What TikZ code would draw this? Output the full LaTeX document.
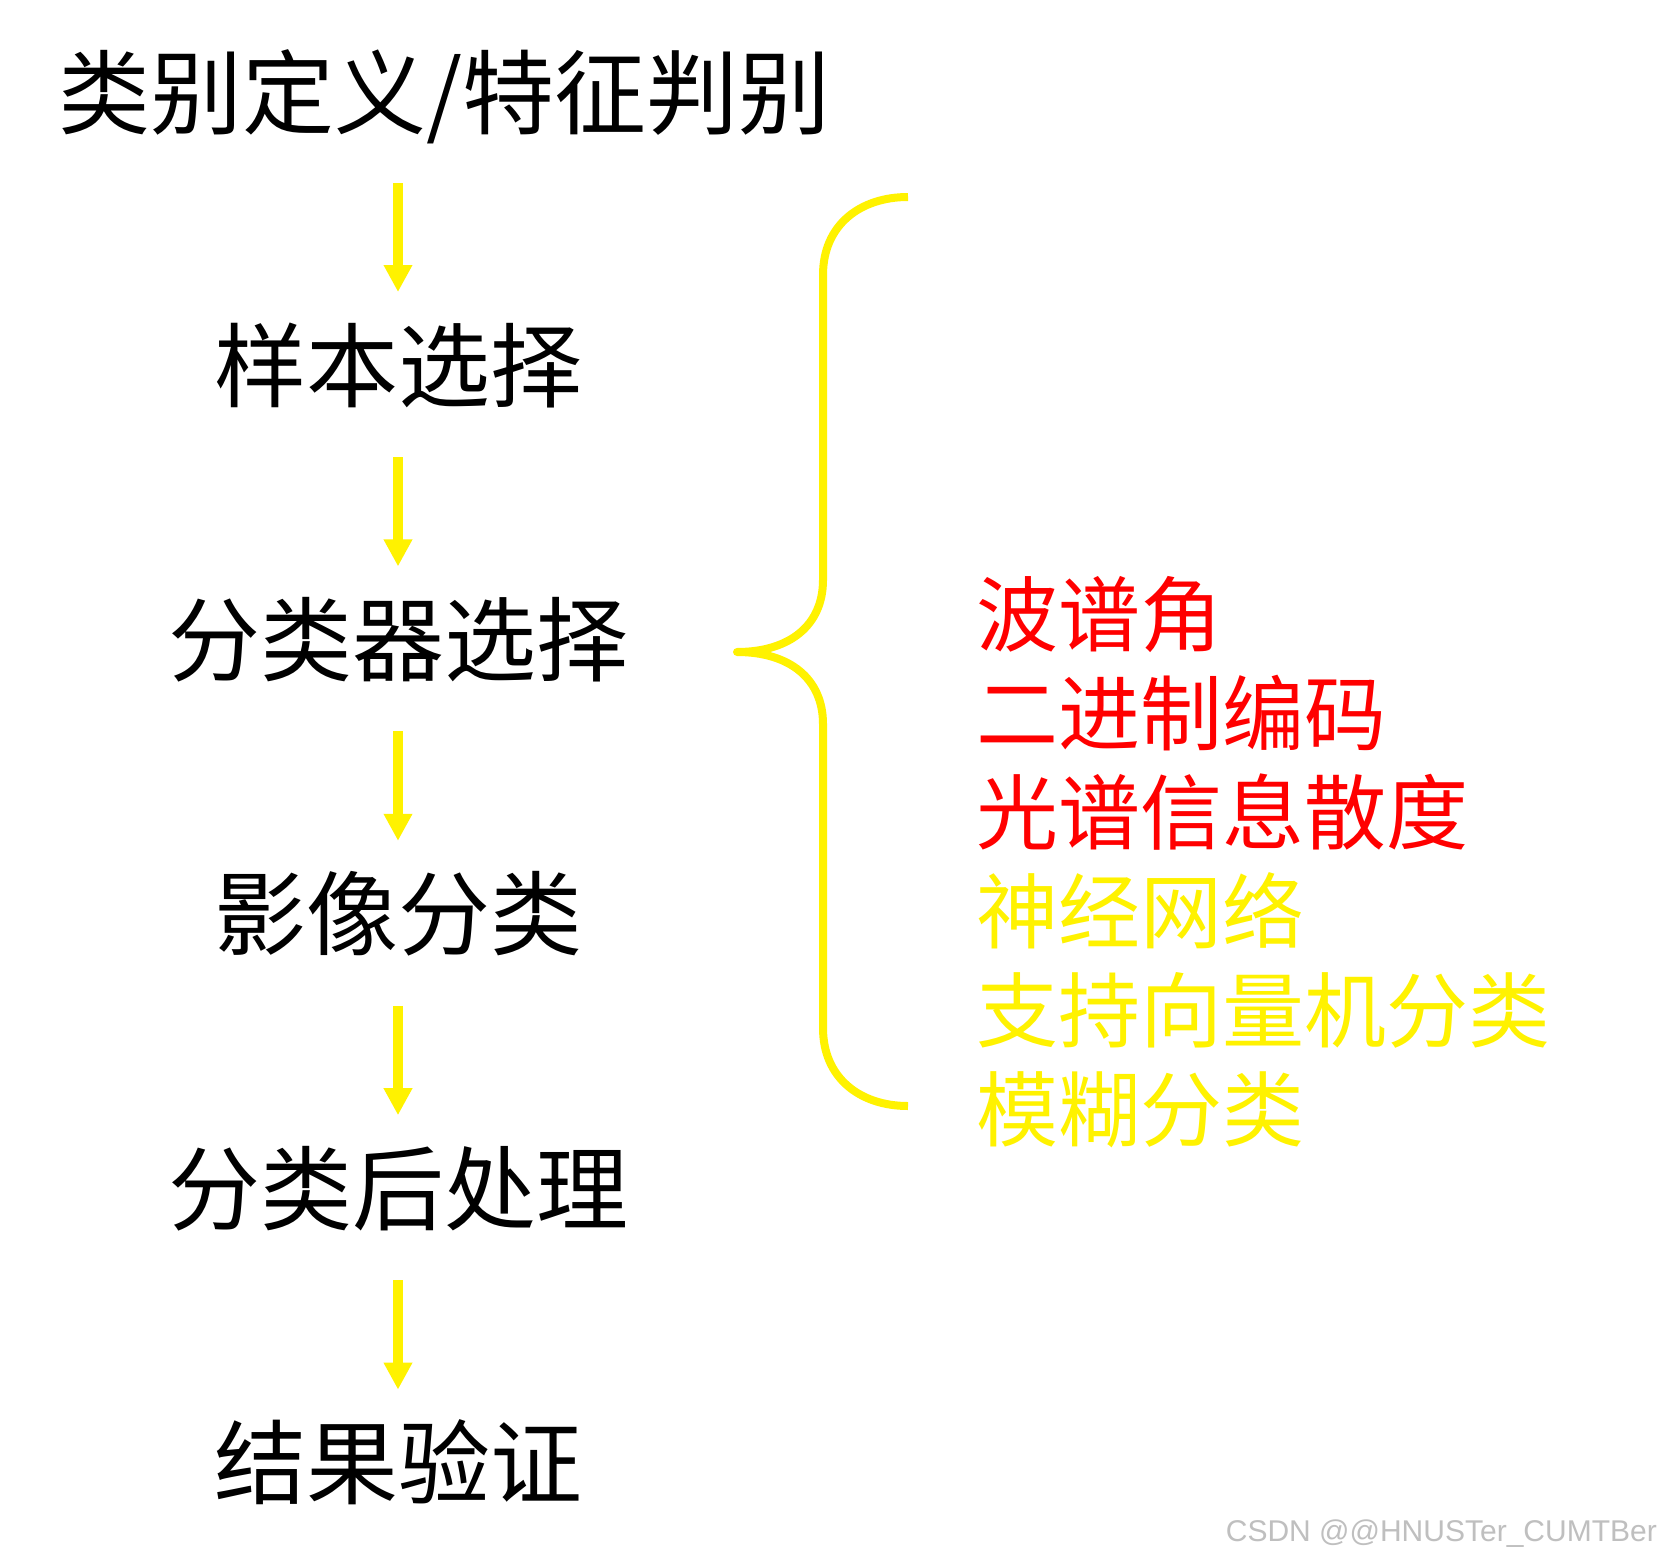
\documentclass[tikz,border=0pt]{standalone}
\usepackage{fontspec}
\setmainfont{Noto Sans CJK SC}
\newfontfamily\markfont{Liberation Sans}
\usetikzlibrary{arrows.meta,positioning}

\begin{document}
\begin{tikzpicture}[
    x=1bp, y=-1bp,
    stepnode/.style={inner sep=0pt, text height=81bp, text depth=11bp,
        font=\fontsize{92bp}{100bp}\selectfont},
    item/.style={inner sep=0pt, anchor=west, text height=72bp, text depth=10bp,
        font=\fontsize{82bp}{90bp}\selectfont},
    flow/.style={draw=yellow, line width=10bp, -{Triangle[width=27bp,length=27bp]}},
    brace/.style={draw=yellow, line width=8bp, line join=round}
]
    \fill[white] (0,0) rectangle (1659,1564);
    \useasboundingbox (0,0) rectangle (1659,1564);

    % steps
    \node [stepnode, anchor=west] (title) at (58,92) {类别定义/特征判别};
    \node [stepnode] (sample) at (398,365) {样本选择};
    \node [stepnode, below=182bp of sample] (clf) {分类器选择};
    \node [stepnode, below=182bp of clf] (classify) {影像分类};
    \node [stepnode, below=182bp of classify] (post) {分类后处理};
    \node [stepnode, below=182bp of post] (check) {结果验证};

    % arrows
    \draw [flow] ([yshift=-91bp]sample.center |- title.center) -- ([yshift=73bp]sample.center);
    \foreach \a/\b in {sample/clf, clf/classify, classify/post, post/check}
        \draw [flow] ([yshift=-92bp]\a.center) -- ([yshift=73bp]\b.center);

    % brace
    \draw [brace] (908,197) .. controls (860,197) and (823,225) .. (823,275)
        -- (823,580) .. controls (823,625) and (790,652) .. (737,652)
        .. controls (790,652) and (823,679) .. (823,724)
        -- (823,1028) .. controls (823,1078) and (860,1106) .. (908,1106);

    % methods
    \foreach \txt/\col [count=\i] in {波谱角/red, 二进制编码/red, 光谱信息散度/red,
        神经网络/yellow, 支持向量机分类/yellow, 模糊分类/yellow}
        \node [item, text=\col] (m\i) at (976,515+99*\i) {\txt};

    \node [anchor=east, inner sep=0pt, text=black!25, font=\markfont\fontsize{30bp}{32bp}\selectfont]
        (mark) at (1657,1534) {CSDN @@HNUSTer\_CUMTBer};
\end{tikzpicture}
\end{document}
